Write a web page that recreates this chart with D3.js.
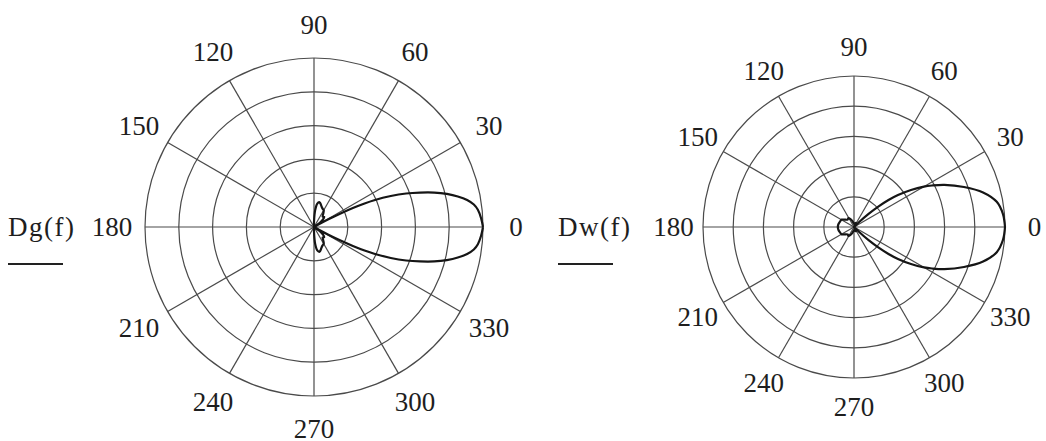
<!DOCTYPE html>
<html><head><meta charset="utf-8">
<script src="https://cdn.jsdelivr.net/npm/d3@7"></script>
<style>html,body{margin:0;padding:0;background:#fff;}svg{display:block;}</style>
</head><body>
<script>
// ---- data ----
const ringTicks = [0.2, 0.4, 0.6, 0.8, 1.0];
const spokeAngles = [0, 30, 60, 90, 120, 150, 180, 210, 240, 270, 300, 330];
const spokeLabels = ["0","30","60","90","120","150","180","210","240","270","300","330"];

const dgAngles = [0,3,6,8,10,12,14,16,18,20,22,24,25,26,27,28,29,30,35,40,45,50,55,60,65,70,75,78,82,86,90,95,180,265,270,274,278,282,285,290,295,300,305,310,315,320,325,330,331,332,333,334,335,336,338,340,342,344,346,348,350,352,354,357,360];
const dgValues = [1.00,0.99,0.975,0.955,0.92,0.87,0.81,0.74,0.66,0.58,0.49,0.39,0.33,0.26,0.18,0.10,0.03,0.0,0.04,0.07,0.085,0.08,0.095,0.115,0.12,0.13,0.145,0.15,0.14,0.10,0.03,0.0,0.0,0.0,0.03,0.10,0.14,0.15,0.145,0.13,0.12,0.115,0.095,0.08,0.085,0.07,0.04,0.0,0.03,0.10,0.18,0.26,0.33,0.39,0.49,0.58,0.66,0.74,0.81,0.87,0.92,0.955,0.975,0.99,1.00];

const dwAngles = [0,5,10,15,20,25,28,30,33,36,38,40,42,44,46,55,65,75,85,95,105,115,122,130,140,149,160,170,180,190,200,211,220,230,238,245,255,265,275,285,295,305,314,316,318,320,322,324,327,330,332,335,340,345,350,355,360];
const dwValues = [1.0,0.99,0.96,0.885,0.775,0.66,0.585,0.535,0.45,0.36,0.29,0.21,0.13,0.05,0.0,0.02,0.03,0.025,0.02,0.025,0.04,0.06,0.07,0.065,0.075,0.095,0.1,0.105,0.107,0.105,0.1,0.095,0.075,0.065,0.07,0.06,0.04,0.025,0.02,0.025,0.03,0.02,0.0,0.05,0.13,0.21,0.29,0.36,0.45,0.535,0.585,0.66,0.775,0.885,0.96,0.99,1.0];

const charts = [
  {name: "Dg(f)", angles: dgAngles, values: dgValues, cx: 314, cy: 227, R: 169, nameX: 8, lineX1: 8, lineX2: 63},
  {name: "Dw(f)", angles: dwAngles, values: dwValues, cx: 854, cy: 227, R: 151, nameX: 558, lineX1: 558, lineX2: 613}
];

const W = 1046, H = 441;
const svg = d3.select("body").append("svg").attr("width", W).attr("height", H)
  .style("font-family", "'Liberation Serif','Times New Roman',serif");

const ang = d3.scaleLinear().domain([0, 360]).range([Math.PI/2, Math.PI/2 - 2*Math.PI]);

charts.forEach(c => {
  const r = d3.scaleLinear().domain([0, 1]).range([0, c.R]);
  const g = svg.append("g").attr("transform", `translate(${c.cx},${c.cy})`);
  g.selectAll("circle.ring").data(ringTicks).join("circle")
    .attr("class", "ring").attr("r", d => r(d))
    .attr("fill", "none").attr("stroke", "#4a4a4a").attr("stroke-width", 1.2);
  g.selectAll("line.spoke").data(spokeAngles).join("line")
    .attr("x1", 0).attr("y1", 0)
    .attr("x2", d => r(1) * Math.sin(ang(d)))
    .attr("y2", d => -r(1) * Math.cos(ang(d)))
    .attr("stroke", "#4a4a4a").attr("stroke-width", 1.2);
  g.selectAll("text.lbl").data(spokeAngles).join("text")
    .attr("x", d => r(1.195) * Math.sin(ang(d)))
    .attr("y", d => -r(1.195) * Math.cos(ang(d)))
    .attr("text-anchor", "middle").attr("dominant-baseline", "central")
    .attr("font-size", 27).attr("fill", "#1e1e1e")
    .text((d, i) => spokeLabels[i]);
  const pts = c.angles.map((a, i) => [ang(a), r(c.values[i])]);
  const line = d3.lineRadial().angle(d => d[0]).radius(d => d[1]).curve(d3.curveCatmullRom.alpha(0.5));
  g.append("path").attr("d", line(pts)).attr("fill", "none")
    .attr("stroke", "#151515").attr("stroke-width", 2.2).attr("stroke-linejoin", "round");
  svg.append("text").attr("x", c.nameX).attr("y", c.cy + 9)
    .attr("font-size", 27).attr("fill", "#1e1e1e").attr("letter-spacing", 1.5).text(c.name);
  svg.append("line").attr("x1", c.lineX1).attr("x2", c.lineX2).attr("y1", 264).attr("y2", 264)
    .attr("stroke", "#222").attr("stroke-width", 2);
});
</script>
</body></html>
